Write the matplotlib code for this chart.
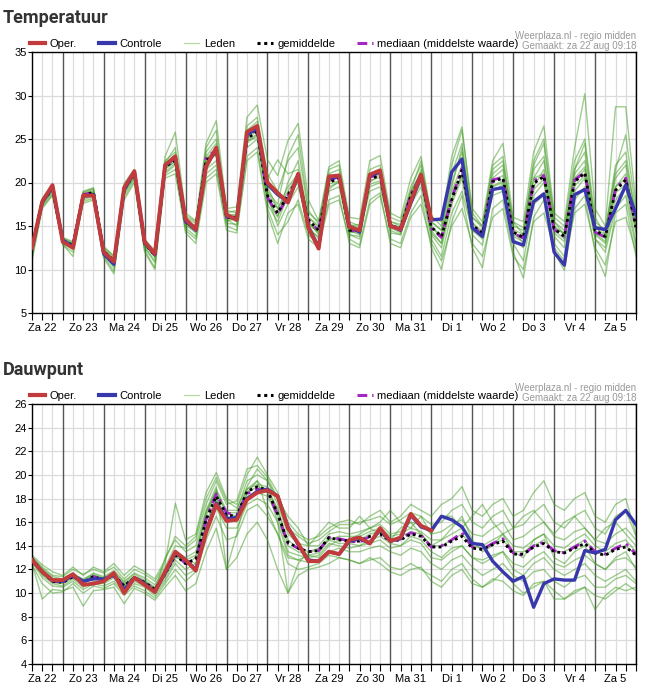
import numpy as np
import matplotlib
matplotlib.use("Agg")
import matplotlib.pyplot as plt
from matplotlib.lines import Line2D

plt.rcParams['font.family'] = ['Liberation Sans', 'DejaVu Sans']

# 6-uurlijkse tijdstappen: za 22 aug 06:00 t/m zo 6 sep 00:00
n_steps = 60
day_labels = ["Za 22", "Zo 23", "Ma 24", "Di 25", "Wo 26", "Do 27", "Vr 28", "Za 29",
              "Zo 30", "Ma 31", "Di 1", "Wo 2", "Do 3", "Vr 4", "Za 5"]

# ---------------- Temperatuur ----------------
temp_oper = [12.5, 17.8, 19.7, 13.2, 12.5, 18.5, 18.5, 12.0, 10.9, 19.4, 21.3, 13.2, 11.8, 22.0, 23.0,
             15.8, 14.6, 21.8, 24.0, 16.3, 15.7, 25.8, 26.5, 20.0, 18.8, 17.7, 21.0, 14.8, 12.4, 20.7,
             20.8, 14.9, 14.5, 20.9, 21.4, 15.0, 14.6, 17.8, 20.9, 15.8]
temp_controle = [12.4, 17.7, 19.5, 13.4, 12.6, 18.4, 18.6, 11.8, 10.6, 19.2, 21.2, 13.1, 11.7, 21.9, 22.9,
                 15.6, 14.5, 21.9, 23.8, 16.2, 15.8, 25.5, 26.2, 19.8, 18.6, 17.8, 20.8, 14.9, 12.6, 20.5,
                 20.7, 15.0, 14.3, 20.8, 21.2, 15.1, 14.5, 17.6, 20.7, 15.7, 15.8, 21.2, 22.7, 14.8, 13.8,
                 19.2, 19.4, 13.2, 12.8, 17.8, 18.7, 12.0, 10.5, 18.6, 19.2, 14.8, 14.6, 17.0, 19.7, 16.3]
temp_gemiddelde = [12.5, 17.8, 19.2, 13.3, 12.8, 18.5, 18.9, 12.1, 11.0, 19.2, 21.0, 13.0, 11.6, 21.8, 22.6,
                   15.5, 14.8, 22.5, 23.5, 16.0, 16.0, 25.0, 25.9, 18.5, 16.5, 18.6, 20.5, 15.7, 14.5, 20.0,
                   20.5, 14.5, 14.5, 20.4, 20.8, 15.0, 14.8, 18.4, 20.7, 14.9, 13.8, 18.0, 21.4, 15.1, 14.2,
                   20.1, 20.5, 14.3, 13.7, 19.9, 20.7, 14.7, 13.8, 20.1, 21.1, 14.5, 13.8, 19.1, 20.3, 14.9]
temp_mediaan = [12.6, 17.9, 19.3, 13.3, 12.8, 18.6, 18.9, 12.1, 10.9, 19.3, 21.1, 13.1, 11.7, 21.9, 22.8,
                15.4, 14.7, 22.8, 23.8, 16.0, 15.9, 25.3, 26.2, 18.3, 16.3, 18.5, 20.6, 15.5, 14.5, 20.2,
                20.7, 14.5, 14.4, 20.6, 21.0, 14.9, 14.7, 18.6, 20.9, 14.7, 13.7, 18.2, 21.6, 15.0, 14.1,
                20.3, 20.6, 14.2, 13.6, 20.2, 20.8, 14.6, 13.8, 20.3, 21.2, 14.3, 13.7, 19.3, 20.5, 14.8]
temp_leden = [
    [12.9, 18.2, 19.8, 13.6, 13.1, 19.0, 19.4, 12.5, 11.6, 19.9, 21.5, 13.5, 12.0,
     23.0, 25.8, 16.5, 15.6, 24.5, 27.1, 17.0, 17.2, 27.5, 28.9, 22.6, 20.8, 24.8, 26.8, 18.0, 15.6, 21.8, 22.5,
     16.0, 15.8, 22.5, 23.1, 16.5, 15.9, 20.5, 23.0, 16.2, 15.0, 22.0, 26.0, 17.0, 15.5, 22.5, 24.5, 16.0, 15.5,
     23.5, 26.5, 16.5, 15.5, 24.0, 30.2, 17.0, 15.0, 28.7, 28.7, 17.5],
    [11.0, 17.0, 18.5, 12.8, 12.0, 17.6, 18.0, 11.5, 9.8, 18.3, 20.2, 12.2, 10.2,
     20.5, 21.0, 14.5, 13.5, 20.5, 21.5, 15.0, 14.5, 23.0, 24.0, 17.0, 14.0, 15.5, 18.0, 14.0, 12.8, 18.0, 18.5,
     13.0, 12.5, 17.5, 18.5, 13.5, 13.0, 16.5, 18.5, 12.5, 10.0, 15.5, 18.5, 12.5, 10.2, 17.0, 18.0, 12.0, 9.0,
     16.0, 18.0, 12.0, 9.9, 17.0, 18.5, 12.0, 9.2, 16.5, 17.5, 11.5],
    [12.3, 17.5, 19.0, 13.0, 12.5, 18.2, 18.6, 11.8, 10.5, 18.8, 20.6, 12.6, 11.0,
     21.5, 22.5, 15.2, 14.2, 22.0, 23.5, 16.0, 15.5, 25.5, 26.5, 19.5, 17.0, 19.5, 21.0, 15.0, 13.5, 19.5, 20.0,
     14.0, 13.8, 19.5, 20.0, 14.5, 14.0, 18.0, 20.5, 14.0, 12.5, 17.5, 20.5, 14.0, 12.8, 19.0, 19.8, 13.5, 12.5,
     18.5, 20.0, 13.8, 12.5, 19.0, 20.5, 13.5, 12.5, 18.0, 19.5, 13.0],
    [12.8, 18.0, 19.5, 13.5, 13.0, 18.8, 19.2, 12.4, 11.3, 19.5, 21.4, 13.3, 12.0,
     22.5, 23.5, 16.0, 15.3, 23.5, 25.0, 16.8, 16.5, 26.5, 27.5, 21.0, 19.0, 22.5, 24.0, 16.5, 15.5, 21.0, 21.5,
     15.5, 15.0, 21.5, 22.0, 16.0, 15.5, 19.5, 22.0, 15.5, 14.5, 20.0, 23.5, 16.0, 15.0, 21.5, 22.5, 15.0, 14.5,
     21.5, 23.0, 15.5, 14.5, 21.5, 23.5, 15.5, 14.5, 21.0, 22.5, 16.0],
    [12.0, 17.6, 19.3, 13.2, 12.6, 18.6, 18.8, 12.0, 11.2, 19.0, 20.8, 12.8, 11.5,
     21.0, 22.0, 15.0, 14.5, 22.5, 24.0, 15.5, 16.0, 24.5, 25.5, 18.0, 16.0, 20.0, 22.5, 15.5, 14.0, 20.5, 20.5,
     14.5, 14.0, 20.0, 21.0, 15.0, 14.5, 18.5, 21.5, 15.0, 13.5, 19.5, 24.0, 15.5, 14.0, 20.5, 21.5, 14.5, 13.0,
     20.5, 22.5, 15.0, 14.0, 21.5, 24.5, 15.0, 13.5, 20.5, 22.0, 14.5],
    [12.6, 17.9, 19.0, 13.4, 12.9, 18.4, 18.7, 12.2, 10.8, 19.3, 21.1, 13.1, 11.8,
     22.0, 23.0, 15.5, 14.8, 21.5, 22.5, 15.8, 15.0, 24.0, 25.0, 18.5, 15.0, 17.5, 19.5, 15.2, 14.3, 19.0, 19.5,
     14.2, 14.5, 19.0, 19.5, 14.8, 14.2, 17.5, 19.5, 13.5, 11.5, 16.5, 19.0, 14.5, 13.5, 18.5, 19.0, 13.0, 11.0,
     17.5, 18.5, 13.0, 11.5, 18.0, 19.5, 13.5, 12.0, 17.0, 18.5, 12.5],
    [13.0, 18.1, 19.6, 13.7, 13.2, 18.9, 19.3, 12.7, 11.5, 19.6, 21.2, 13.4, 12.2,
     22.3, 24.0, 16.2, 15.5, 23.0, 24.5, 16.5, 16.8, 26.0, 27.0, 20.5, 22.6, 21.0, 21.5, 16.0, 15.0, 20.0, 21.0,
     15.0, 15.2, 21.0, 21.5, 15.5, 15.2, 19.0, 21.0, 15.5, 14.5, 21.0, 24.5, 16.0, 14.8, 21.0, 22.0, 15.5, 14.8,
     22.0, 24.5, 15.5, 14.0, 21.0, 22.5, 15.0, 14.5, 22.0, 23.5, 15.5],
    [11.8, 17.3, 18.8, 13.0, 12.3, 18.0, 18.4, 11.7, 10.2, 18.6, 20.5, 12.5, 10.8,
     21.2, 22.2, 14.8, 13.8, 21.0, 22.0, 15.3, 15.2, 24.8, 25.2, 17.5, 15.5, 18.5, 20.0, 14.5, 13.8, 19.2, 20.2,
     14.0, 13.5, 19.8, 20.2, 14.2, 14.0, 17.8, 20.0, 14.5, 13.0, 18.0, 21.0, 14.8, 14.0, 19.5, 20.0, 14.0, 13.5,
     19.5, 21.5, 14.5, 13.5, 20.0, 21.5, 14.0, 13.0, 19.5, 20.5, 14.5],
    [12.4, 17.7, 19.1, 13.3, 12.7, 18.5, 18.9, 12.1, 11.0, 19.2, 20.9, 13.0, 11.6,
     21.8, 22.8, 15.5, 14.9, 24.0, 26.0, 16.2, 16.3, 25.0, 26.0, 19.0, 17.5, 23.0, 25.5, 16.8, 15.2, 21.5, 22.0,
     15.2, 14.8, 20.5, 21.5, 15.5, 15.0, 19.0, 22.5, 16.0, 15.5, 23.0, 26.4, 16.5, 15.0, 22.0, 23.0, 15.5, 14.0,
     22.5, 25.0, 16.0, 15.0, 22.5, 25.0, 16.0, 14.0, 21.5, 25.5, 16.5],
    [11.3, 17.2, 18.6, 12.9, 11.5, 17.8, 18.2, 11.3, 9.5, 18.0, 20.0, 12.0, 10.0,
     20.8, 21.5, 14.2, 13.0, 20.0, 21.0, 14.5, 14.2, 22.5, 23.5, 16.5, 13.0, 16.5, 17.5, 13.5, 12.5, 17.5, 18.0,
     13.5, 12.8, 18.0, 18.8, 13.0, 12.5, 16.0, 17.5, 13.0, 11.0, 15.0, 17.0, 13.0, 11.5, 16.0, 17.0, 11.5, 10.0,
     15.5, 16.5, 12.5, 11.0, 16.5, 17.5, 12.5, 10.5, 15.5, 16.0, 12.0],
    [12.7, 17.9, 19.4, 13.4, 12.9, 18.7, 19.0, 12.3, 11.2, 19.4, 21.2, 13.2, 11.9,
     22.2, 23.2, 15.8, 15.0, 22.8, 23.8, 16.4, 16.2, 25.5, 26.2, 18.8, 17.0, 19.0, 21.0, 16.0, 14.8, 20.2, 20.8,
     14.8, 14.6, 20.8, 21.0, 15.2, 14.8, 18.8, 21.2, 14.8, 14.0, 19.0, 22.0, 15.2, 14.5, 20.2, 20.8, 14.6, 14.0,
     20.5, 21.0, 14.8, 14.2, 20.5, 21.8, 14.8, 14.0, 19.5, 21.0, 15.2],
    [12.2, 17.6, 19.2, 13.1, 12.5, 18.3, 18.8, 12.0, 10.9, 19.0, 20.8, 12.9, 11.4,
     21.6, 22.4, 15.3, 14.6, 22.3, 23.2, 15.8, 15.8, 24.8, 25.6, 18.2, 16.2, 18.2, 20.2, 15.4, 14.2, 19.8, 20.2,
     14.4, 14.2, 20.2, 20.6, 14.9, 14.6, 18.2, 20.4, 14.2, 13.0, 18.2, 20.8, 14.6, 13.8, 19.6, 20.2, 13.8, 13.2,
     19.2, 20.4, 14.2, 13.2, 19.6, 20.8, 14.2, 13.2, 18.8, 19.8, 14.2],
]

# ---------------- Dauwpunt ----------------
dauw_oper = [12.8, 11.8, 11.1, 11.1, 11.6, 10.7, 10.8, 11.0, 11.7, 10.0, 11.3, 10.7, 10.1, 11.8, 13.5,
             12.8, 11.9, 15.1, 17.5, 16.1, 16.2, 17.9, 18.5, 18.7, 18.2, 15.5, 14.2, 12.7, 12.7, 13.5,
             13.3, 14.5, 14.7, 14.2, 15.5, 14.4, 14.7, 16.7, 15.7, 15.3]
dauw_controle = [12.8, 11.8, 11.1, 11.0, 11.5, 11.0, 11.2, 11.2, 11.5, 10.3, 11.3, 10.8, 10.1, 11.7, 13.4,
                 12.8, 12.0, 15.3, 17.6, 16.3, 16.4, 18.0, 18.6, 18.8, 18.2, 15.6, 14.1, 12.8, 12.7, 13.5,
                 13.3, 14.4, 14.6, 14.2, 15.4, 14.4, 14.6, 16.6, 15.6, 15.3, 16.5, 16.2, 15.6, 14.2, 14.1,
                 12.7, 11.8, 11.0, 11.4, 8.8, 10.8, 11.2, 11.1, 11.1, 13.6, 13.4, 13.7, 16.2, 17.0, 15.8]
dauw_gemiddelde = [12.9, 11.8, 11.0, 10.9, 11.4, 10.9, 11.4, 11.1, 11.5, 10.6, 11.3, 10.9, 10.3, 11.6, 13.2,
                   12.5, 12.9, 16.2, 18.2, 16.6, 16.5, 18.6, 19.0, 18.7, 16.7, 14.3, 13.8, 13.5, 13.6, 14.7,
                   14.5, 14.4, 14.4, 14.8, 15.0, 14.4, 14.5, 15.0, 14.8, 13.9, 13.9, 14.4, 14.8, 13.8, 13.7,
                   14.1, 14.4, 13.3, 13.3, 13.9, 14.2, 13.5, 13.4, 13.8, 14.2, 13.4, 13.2, 13.7, 13.9, 13.2]
dauw_mediaan = [12.9, 11.8, 11.0, 10.9, 11.4, 10.9, 11.4, 11.1, 11.5, 10.6, 11.3, 10.9, 10.3, 11.6, 13.3,
                12.5, 12.8, 16.3, 18.4, 16.8, 16.6, 18.4, 18.8, 18.6, 16.6, 14.2, 13.8, 13.5, 13.6, 14.7,
                14.6, 14.4, 14.3, 14.8, 15.1, 14.5, 14.6, 15.1, 14.9, 13.9, 14.0, 14.5, 15.1, 13.9, 13.7,
                14.2, 14.6, 13.4, 13.2, 14.0, 14.3, 13.6, 13.4, 13.9, 14.4, 13.5, 13.3, 13.8, 14.2, 13.3]
dauw_leden = [
    [13.1, 12.2, 11.5, 11.4, 12.0, 11.6, 12.0, 11.7, 12.2, 11.2, 12.0, 11.6, 11.0,
     12.5, 17.6, 14.5, 15.0, 18.5, 20.2, 18.0, 17.5, 20.0, 21.5, 20.0, 18.5, 16.0, 15.0, 14.5, 14.8, 15.5, 16.0,
     16.2, 15.8, 16.5, 17.0, 16.0, 16.5, 17.5, 17.0, 16.5, 17.5, 18.0, 19.0, 17.0, 16.5, 17.5, 18.0, 16.5, 17.0,
     18.5, 19.5, 17.5, 17.0, 18.0, 18.5, 16.5, 16.0, 17.5, 18.0, 15.0],
    [12.5, 9.5, 10.3, 10.2, 10.5, 8.9, 10.2, 10.3, 10.5, 9.1, 10.4, 10.0, 9.4,
     10.5, 11.5, 10.2, 10.8, 13.5, 15.5, 12.0, 13.0, 15.0, 16.0, 14.5, 12.0, 10.0, 11.5, 12.0, 12.2, 12.5, 13.0,
     12.8, 12.5, 13.0, 12.5, 11.8, 11.5, 12.0, 12.2, 11.0, 10.5, 11.5, 12.0, 10.8, 10.5, 11.2, 11.0, 10.2, 9.8,
     10.8, 11.0, 9.5, 9.5, 10.2, 10.5, 8.6, 9.8, 10.5, 10.2, 10.5],
    [12.8, 11.5, 10.8, 10.6, 11.2, 10.5, 11.0, 10.8, 11.3, 10.2, 11.0, 10.6, 10.0,
     11.2, 12.8, 12.0, 12.5, 15.5, 17.8, 16.0, 16.2, 18.0, 18.5, 18.2, 16.5, 13.5, 13.2, 13.0, 13.2, 14.2, 14.0,
     13.8, 14.0, 14.2, 14.5, 13.8, 14.0, 14.5, 14.2, 13.0, 12.8, 13.5, 14.0, 13.0, 12.8, 13.2, 13.5, 12.5, 12.2,
     13.0, 13.5, 12.5, 12.2, 12.8, 13.2, 12.5, 12.0, 12.8, 13.0, 12.2],
    [13.0, 12.0, 11.2, 11.1, 11.6, 11.2, 11.6, 11.3, 11.8, 10.9, 11.6, 11.1, 10.5,
     11.9, 13.6, 13.0, 13.5, 16.8, 18.8, 17.0, 17.0, 19.5, 20.0, 19.5, 17.5, 15.0, 14.2, 14.0, 14.0, 15.0, 15.2,
     15.0, 15.2, 15.5, 15.8, 15.0, 15.2, 16.0, 15.8, 15.0, 15.2, 15.8, 16.2, 15.0, 14.8, 15.5, 16.0, 14.5, 14.8,
     15.5, 16.0, 14.8, 14.5, 15.2, 15.5, 14.5, 14.2, 15.0, 15.5, 14.5],
    [12.7, 11.6, 10.9, 10.8, 11.3, 10.8, 11.3, 11.0, 11.4, 10.5, 11.2, 10.8, 10.2,
     13.0, 14.5, 13.5, 14.0, 17.0, 19.0, 12.0, 15.0, 18.5, 19.5, 17.0, 15.0, 13.0, 12.8, 13.2, 13.0, 14.0, 14.5,
     14.5, 15.0, 15.5, 15.0, 14.5, 15.5, 16.0, 15.0, 14.0, 14.5, 15.5, 16.5, 14.5, 13.5, 14.0, 15.0, 13.5, 13.0,
     14.5, 15.0, 13.0, 12.5, 13.5, 14.0, 12.5, 12.0, 13.0, 13.5, 12.0],
    [12.9, 11.9, 11.1, 11.0, 11.5, 11.0, 11.5, 11.2, 11.6, 10.7, 11.4, 11.0, 10.4,
     11.5, 13.0, 12.8, 12.5, 16.0, 18.0, 16.5, 16.0, 18.5, 19.0, 18.8, 16.0, 10.0, 12.5, 13.5, 13.8, 14.5, 14.2,
     14.2, 14.0, 14.5, 14.8, 14.2, 14.0, 14.8, 14.5, 13.5, 13.0, 13.8, 14.0, 13.0, 12.5, 13.0, 13.5, 12.0, 11.5,
     12.5, 13.0, 12.0, 11.5, 12.0, 12.5, 11.5, 11.0, 11.5, 12.0, 11.0],
    [13.0, 12.1, 11.4, 11.2, 11.7, 11.1, 11.7, 11.4, 11.9, 11.0, 11.7, 11.3, 10.7,
     12.2, 14.0, 13.8, 14.5, 17.5, 19.5, 17.5, 17.8, 20.5, 20.8, 19.8, 18.0, 15.5, 14.8, 14.2, 14.5, 15.2, 15.8,
     15.8, 16.0, 16.2, 16.5, 15.8, 16.2, 16.8, 16.5, 15.8, 16.0, 17.0, 17.5, 16.0, 15.5, 16.5, 17.0, 15.5, 15.8,
     16.8, 17.5, 16.0, 15.5, 16.5, 17.0, 15.5, 15.0, 16.5, 17.0, 14.8],
    [12.6, 11.3, 10.6, 10.5, 11.0, 10.3, 10.8, 10.6, 11.0, 10.0, 10.8, 10.5, 9.8,
     11.0, 12.5, 11.5, 12.0, 15.0, 17.2, 15.5, 15.5, 17.5, 18.0, 17.5, 16.0, 13.2, 12.8, 12.6, 12.8, 13.5, 13.8,
     13.5, 13.5, 13.8, 14.0, 13.5, 13.2, 13.8, 13.5, 12.5, 12.0, 12.8, 13.2, 12.2, 11.5, 12.0, 12.5, 11.5, 11.0,
     11.8, 12.0, 11.0, 10.5, 11.2, 11.5, 10.5, 10.5, 11.2, 11.5, 10.8],
    [12.8, 11.7, 11.0, 10.9, 11.4, 10.9, 11.4, 11.1, 11.5, 10.6, 11.3, 10.9, 10.3,
     11.6, 13.2, 12.5, 13.0, 16.5, 18.5, 16.8, 16.5, 18.8, 19.2, 19.0, 17.0, 14.5, 13.8, 13.5, 13.6, 14.7, 14.5,
     14.5, 14.5, 15.0, 15.2, 14.5, 14.8, 15.2, 15.0, 14.0, 14.0, 14.5, 15.0, 14.0, 13.8, 14.2, 14.5, 13.5, 13.5,
     14.0, 14.5, 13.5, 13.5, 14.0, 14.5, 13.5, 13.2, 13.8, 14.0, 13.2],
    [13.2, 12.4, 11.8, 11.5, 12.2, 11.5, 12.2, 11.8, 12.5, 11.5, 12.3, 11.8, 11.2,
     12.8, 14.8, 14.0, 14.8, 18.0, 19.8, 17.8, 17.2, 19.0, 20.5, 19.5, 18.0, 16.5, 15.5, 14.0, 15.0, 16.0, 15.5,
     15.5, 16.5, 15.5, 16.0, 17.0, 16.0, 15.5, 16.5, 15.0, 16.5, 16.5, 15.5, 16.5, 17.5, 16.0, 15.0, 15.5, 16.5,
     17.0, 16.0, 15.0, 16.0, 16.5, 15.5, 14.5, 15.5, 16.0, 15.0, 14.0],
    [12.4, 10.8, 10.0, 10.1, 10.8, 10.0, 10.6, 10.4, 10.8, 9.8, 10.6, 10.2, 9.6,
     10.8, 12.0, 11.0, 11.8, 14.5, 16.5, 14.5, 14.8, 17.0, 17.5, 16.5, 15.0, 12.5, 12.0, 12.2, 12.5, 13.2, 13.0,
     12.8, 12.5, 12.8, 13.0, 12.2, 12.0, 12.5, 12.0, 11.5, 11.0, 12.0, 12.5, 11.2, 10.5, 11.0, 11.8, 10.8, 10.0,
     10.5, 11.0, 10.2, 9.5, 10.0, 10.5, 9.8, 9.5, 10.2, 10.8, 10.2],
    [12.9, 11.9, 11.2, 11.0, 11.5, 11.0, 11.5, 11.2, 11.6, 10.8, 11.4, 11.0, 10.4,
     11.8, 13.4, 12.8, 13.2, 16.8, 18.6, 16.8, 16.8, 18.8, 19.5, 18.5, 17.2, 14.0, 13.5, 13.2, 13.4, 14.5, 14.8,
     14.8, 14.8, 15.2, 15.5, 14.8, 15.0, 15.5, 15.2, 14.5, 14.5, 15.0, 15.5, 14.2, 14.0, 14.5, 15.0, 14.0, 13.8,
     14.5, 15.0, 14.0, 13.8, 14.5, 15.0, 14.0, 13.5, 14.2, 14.5, 13.5],
]

RED = '#c23b3c'
BLUE = '#3838ac'
GREEN = '#3f9c20'
PURPLE = '#a426c4'
MEDIAN_LS = (0, (4, 2, 1, 2))


def draw_panel(ax, leden, mediaan, gemiddelde, controle, oper, yticks):
    t = np.arange(n_steps)
    ax.set_xlim(0, n_steps - 1)
    ax.set_ylim(yticks[0], yticks[-1])
    # raster
    for y in yticks[1:-1]:
        ax.axhline(y, color='#dcdcdc', lw=0.9, zorder=0)
    for i in range(n_steps):
        if i % 4 == 3:
            ax.axvline(i, color='#555555', lw=1.0, zorder=0.5)
        else:
            ax.axvline(i, color='#dcdcdc', lw=0.9, zorder=0)

    for m in leden:
        ax.plot(t, m, color=GREEN, lw=1.0, alpha=0.5, zorder=1)
    ax.plot(t, mediaan, color=PURPLE, lw=2.0, ls=MEDIAN_LS, zorder=2)
    ax.plot(t, gemiddelde, color='black', lw=2.0, ls=(0, (1, 1.2)), zorder=3)
    ax.plot(t, controle, color=BLUE, lw=2.4, zorder=4)
    ax.plot(t[:len(oper)], oper, color=RED, lw=2.8, zorder=5)

    ax.set_yticks(yticks)
    ax.set_yticklabels([str(v) for v in yticks])
    ax.set_xticks(t)
    ax.set_xticklabels([day_labels[(i - 1) // 4] if i % 4 == 1 else '' for i in t])
    ax.tick_params(axis='x', length=5, width=0.8, pad=2, labelsize=8, colors='black')
    ax.tick_params(axis='y', length=3, width=0.8, pad=1, labelsize=8)
    for s in ax.spines.values():
        s.set_color('black')
        s.set_linewidth(1.0)

    handles = [
        Line2D([], [], color=RED, lw=3.0),
        Line2D([], [], color=BLUE, lw=3.0),
        Line2D([], [], color='#b3d9a3', lw=0.9),
        Line2D([], [], color='black', lw=2.2, ls=(0, (1, 1.2))),
        Line2D([], [], color=PURPLE, lw=2.2, ls=(0, (3.2, 1.6, 0.8, 8))),
    ]
    names = ['Oper.', 'Controle', 'Leden', 'gemiddelde', 'mediaan (middelste waarde)']
    ax.legend(handles, names, loc='lower left', bbox_to_anchor=(-0.004, 1.012), ncol=5,
              frameon=False, fontsize=8, handlelength=1.4, handletextpad=0.4,
              columnspacing=2.0, borderaxespad=0, borderpad=0)


fig = plt.figure(figsize=(6.59, 6.91), dpi=100)
W, H = 659, 691
ax1 = fig.add_axes([32 / W, 1 - 313 / H, 604 / W, 261 / H])
ax2 = fig.add_axes([32 / W, 1 - 664 / H, 604 / W, 260 / H])

draw_panel(ax1, temp_leden, temp_mediaan, temp_gemiddelde, temp_controle, temp_oper,
           list(range(5, 36, 5)))
draw_panel(ax2, dauw_leden, dauw_mediaan, dauw_gemiddelde, dauw_controle, dauw_oper,
           list(range(4, 27, 2)))

for title, ytop in [('Temperatuur', 18), ('Dauwpunt', 370)]:
    fig.text(3 / W, 1 - ytop / H, title, fontsize=13, fontweight='bold', color='#333333',
             family=['Roboto', 'DejaVu Sans'], va='center', ha='left')

for y1 in (36, 388):
    fig.text(636 / W, 1 - y1 / H, 'Weerplaza.nl - regio midden', fontsize=7, color='#999999',
             ha='right', va='center')
    fig.text(636 / W, 1 - (y1 + 10) / H, 'Gemaakt: za 22 aug 09:18', fontsize=7, color='#999999',
             ha='right', va='center')

fig.savefig('out.png', dpi=100, facecolor='white')
